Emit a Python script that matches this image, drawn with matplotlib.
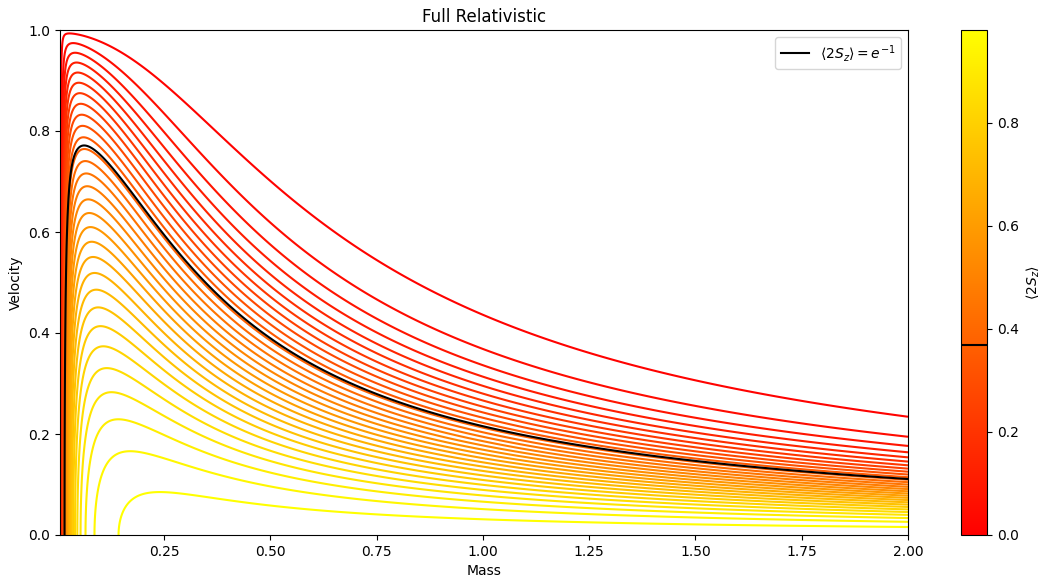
import numpy as np
import matplotlib
matplotlib.use("Agg")
import matplotlib.pyplot as plt
from matplotlib.colors import Normalize
from matplotlib.cm import ScalarMappable
from matplotlib.lines import Line2D

# ---- data / model values ----
contour_levels = list(np.round(np.linspace(0.01, 0.98, 30), 4))   # <2S_z> contour levels
highlight_level = float(np.exp(-1))                                 # black contour
mass_range = [0.005, 2.0]
velocity_range = [0.0, 1.0]
momentum_scale = 0.224      # Gaussian momentum scale (large-mass behaviour)
gamma_power = 1.45          # Lorentz-factor weight on the momentum term
velocity_power = 0.9        # exponent of the (1 - v^2) factor
mass_scale = 0.0157         # low-mass suppression scale (where <2S_z>(v=0) = 1/e)
mass_power = 1.65
mass_cutoff = 0.28
cbar_range = [0.0, 0.98]
cbar_ticks = [0.0, 0.2, 0.4, 0.6, 0.8]
x_ticks = [0.25, 0.50, 0.75, 1.00, 1.25, 1.50, 1.75, 2.00]
y_ticks = [0.0, 0.2, 0.4, 0.6, 0.8, 1.0]

# ---- field ----
mass = np.linspace(mass_range[0], mass_range[1], 900)
vel = np.linspace(velocity_range[0], velocity_range[1], 900)
M, V = np.meshgrid(mass, vel)
with np.errstate(divide='ignore', invalid='ignore', over='ignore'):
    gamma = 1.0 / np.sqrt(np.clip(1 - V**2, 1e-12, None))
    low_mass = (mass_scale / M) ** mass_power * np.exp(-(M / mass_cutoff) ** 2)
    S = (1 - V**2) ** velocity_power \
        * np.exp(-(M * V / momentum_scale) ** 2 * gamma ** gamma_power) \
        * np.exp(-low_mass)
S = np.nan_to_num(S)

fig = plt.figure(figsize=(10.4, 5.82), dpi=100)
ax = fig.add_axes([60/1040, 47/582, 848/1040, 505/582])
cax = fig.add_axes([961/1040, 47/582, 26/1040, 505/582])

norm = Normalize(vmin=cbar_range[0], vmax=cbar_range[1])
ax.contour(M, V, S, levels=contour_levels, cmap='autumn', norm=norm, linewidths=1.5)
ax.contour(M, V, S, levels=[highlight_level], colors='k', linewidths=1.5, zorder=3)

ax.set_xlim(mass_range)
ax.set_ylim(velocity_range)
ax.set_xticks(x_ticks)
ax.set_yticks(y_ticks)
ax.set_xlabel('Mass')
ax.set_ylabel('Velocity')
ax.set_title('Full Relativistic')
ax.legend(handles=[Line2D([], [], color='k', lw=1.5, label=r'$\langle 2S_z\rangle = e^{-1}$')],
          loc='upper right')

sm = ScalarMappable(norm=norm, cmap='autumn')
cb = fig.colorbar(sm, cax=cax, ticks=cbar_ticks)
cb.set_label(r'$\langle 2S_z\rangle$')
cax.axhline(highlight_level, color='k', lw=1.5)

fig.savefig('out.png', dpi=100)
